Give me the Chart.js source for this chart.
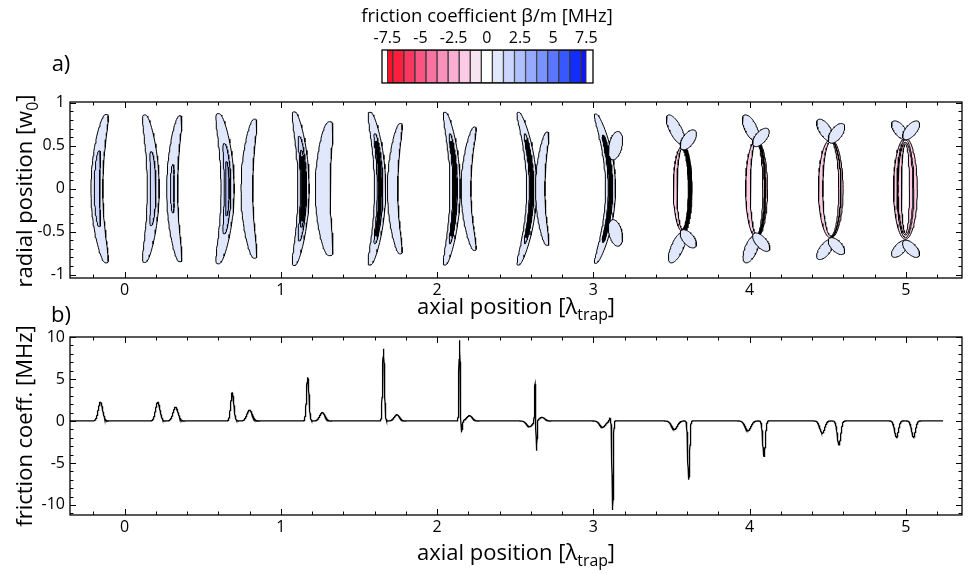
<!DOCTYPE html>
<html>
<head>
<meta charset="utf-8">
<script src="https://cdn.jsdelivr.net/npm/chart.js@4.4.1/dist/chart.umd.min.js"></script>
<style>
  body { margin: 0; background: #fff; width: 969px; height: 574px; overflow: hidden; position: relative; font-family: "Open Sans", sans-serif; }
  canvas { position: absolute; left: 0; top: 0; }
  .lbl { position: absolute; white-space: nowrap; color: #000; line-height: 1; transform: translate(-50%, -50%); }
  .lbl sub { font-size: 72%; vertical-align: -0.35em; line-height: 0; }
  .rot { transform: translate(-50%, -50%) rotate(-90deg); }
</style>
</head>
<body>
<canvas id="cbar" width="969" height="574"></canvas>
<canvas id="kontur" width="969" height="574"></canvas>
<canvas id="reibung" width="969" height="574"></canvas>

<div class="lbl" style="left:487px;top:15px;font-size:18.5px">friction coefficient β/m [MHz]</div>
<div class="lbl" style="left:61px;top:62px;font-size:22px">a)</div>
<div class="lbl" style="left:61px;top:313px;font-size:22px">b)</div>
<div class="lbl rot" style="left:23px;top:191px;font-size:22px">radial position [w<sub>0</sub>]</div>
<div class="lbl" style="left:516px;top:305px;font-size:22px">axial position [λ<sub>trap</sub>]</div>
<div class="lbl rot" style="left:23px;top:426px;font-size:22px">friction coeff. [MHz]</div>
<div class="lbl" style="left:516px;top:551px;font-size:22px">axial position [λ<sub>trap</sub>]</div>

<script>
// axes: axial position in λ_trap, radial position in w0, friction in MHz
const axialRange = [-0.35, 5.36];
const radialRange = [-1.04, 1.01];
const frictionRange = [-11.2, 10];
const axialTicks = [0, 1, 2, 3, 4, 5];
const radialTicks = [-1, -0.5, 0, 0.5, 1];
const frictionTicks = [-10, -5, 0, 5, 10];

// colour bar: contour level edges (MHz) and the colour of each band
const levelEdges = [-7.5, -7.083, -6.25, -5.417, -4.583, -3.75, -2.917, -2.083, -1.25, -0.417,
  0.417, 1.25, 2.083, 2.917, 3.75, 4.583, 5.417, 6.25, 7.083, 7.5];
const levelColors = [
  'rgb(255,16,40)', 'rgb(255,30,62)', 'rgb(250,55,96)', 'rgb(250,85,130)', 'rgb(250,115,160)',
  'rgb(250,145,186)', 'rgb(250,175,210)', 'rgb(252,202,228)', 'rgb(246,228,240)', 'rgb(255,255,255)',
  'rgb(226,232,252)', 'rgb(202,214,255)', 'rgb(175,192,255)', 'rgb(148,170,255)', 'rgb(120,146,255)',
  'rgb(90,118,255)', 'rgb(55,88,255)', 'rgb(18,45,255)', 'rgb(15,20,250)'
];
const colorTicks = [-7.5, -5, -2.5, 0, 2.5, 5, 7.5];

// crescent contours: axial centre at r=0, tip offset, radial half length, axial width
const crescentX     = [-0.178, 0.183, 0.304, 0.659, 0.782, 1.145, 1.268, 1.635, 1.715, 2.115, 2.185, 2.605, 2.66, 3.11];
const crescentBend  = [0.060, -0.055, 0.050, -0.060, 0.050, -0.060, 0.045, -0.065, 0.050, -0.065, 0.055, -0.085, 0.045, -0.095];
const crescentHalf  = [0.865, 0.86, 0.85, 0.875, 0.81, 0.895, 0.78, 0.89, 0.76, 0.89, 0.72, 0.89, 0.66, 0.87];
const crescentWidth = [0.076, 0.076, 0.07, 0.084, 0.075, 0.072, 0.095, 0.072, 0.066, 0.066, 0.062, 0.064, 0.06, 0.064];
// higher contour levels inside each crescent: [length fraction, width fraction]
const crescentInner = [
  [[0.51, 0.45]], [[0.5, 0.45]], [[0.33, 0.32]], [[0.6, 0.5], [0.36, 0.25]], [],
  [[0.68, 0.55], [0.5, 0.38]], [], [[0.72, 0.5]], [], [[0.72, 0.45]], [], [[0.72, 0.45]], [], [[0.72, 0.45]]
];
// length fraction of the band of tightly packed contour lines
const crescentDense = [0, 0, 0, 0, 0, 0.4, 0, 0.6, 0, 0.6, 0, 0.62, 0, 0.68];

// ring contours at the outer sites
const ringX      = [3.572, 4.045, 4.52, 4.998];
const ringRx     = [0.06, 0.07, 0.079, 0.076];
const ringRy     = [0.50, 0.57, 0.575, 0.59];
const ringBand   = [0.024, 0.03, 0.028, 0.022];
const ringSecond = [0, 0, 0, 0.048];

// lobes attached to the rings: base and tip
const lobeBaseX = [3.126, 3.126, 3.57, 3.578, 3.575, 3.578, 4.04, 4.04, 4.04, 4.04, 4.518, 4.525, 4.518, 4.525, 4.994, 5.0, 4.994, 5.0];
const lobeBaseY = [0.337, -0.36, 0.51, 0.453, -0.50, -0.477, 0.55, 0.49, -0.535, -0.515, 0.55, 0.53, -0.59, -0.57, 0.57, 0.57, -0.6, -0.6];
const lobeTipX  = [3.158, 3.158, 3.485, 3.638, 3.50, 3.638, 3.975, 4.105, 3.98, 4.11, 4.45, 4.588, 4.45, 4.588, 4.93, 5.068, 4.93, 5.068];
const lobeTipY  = [0.667, -0.67, 0.86, 0.686, -0.864, -0.69, 0.86, 0.705, -0.864, -0.73, 0.81, 0.76, -0.826, -0.767, 0.79, 0.79, -0.8, -0.8];

// friction coefficient along the axis: peak position, height (MHz), width
const peakAt     = [-0.155, 0.212, 0.326, 0.689, 0.800, 1.172, 1.266, 1.657, 1.743, 2.144, 2.156, 2.208, 2.592, 2.627, 2.637, 2.672,
  3.060, 3.106, 3.124, 3.520, 3.611, 3.991, 4.093, 4.466, 4.573, 4.941, 5.050];
const peakHeight = [2.25, 2.25, 1.65, 3.35, 1.3, 5.2, 1.0, 8.6, 0.75, 9.7, -1.4, 0.63, -0.67, 4.5, -3.6, 0.43,
  -0.75, 0.35, -10.6, -1.0, -7.0, -1.15, -4.2, -1.46, -2.85, -1.94, -1.94];
const peakWidth  = [0.014, 0.014, 0.016, 0.010, 0.017, 0.008, 0.017, 0.006, 0.017, 0.004, 0.005, 0.018, 0.018, 0.003, 0.003, 0.018,
  0.018, 0.004, 0.004, 0.018, 0.006, 0.018, 0.008, 0.015, 0.011, 0.012, 0.012];
const curveEnd = 5.24;

const tickFont = { family: 'Open Sans', size: 16 };
const ringShade = [4, 2.5, 1.5, 0];
const lobeWidth = 0.085;

// ---- outline helpers (data units) ----
function crescent(i, hf, wf) {
  const pts = [];
  const n = 48;
  for (const side of [1, -1]) {
    for (let k = 0; k <= n; k++) {
      const t = side * Math.cos(Math.PI * k / n);
      const y = t * hf * crescentHalf[i];
      const u = y / crescentHalf[i];
      const hw = 0.5 * wf * crescentWidth[i] * Math.pow(Math.max(0, 1 - t * t), 0.3);
      pts.push({ x: crescentX[i] + crescentBend[i] * u * u + side * hw, y });
    }
  }
  return pts;
}

function centreLine(i, frac) {
  const pts = [];
  for (let k = 0; k <= 30; k++) {
    const u = frac * (-1 + 2 * k / 30);
    pts.push({ x: crescentX[i] + crescentBend[i] * u * u, y: u * crescentHalf[i] });
  }
  return pts;
}

function ellipse(cx, rx, ry, a0 = 0, a1 = 2 * Math.PI) {
  const pts = [];
  for (let k = 0; k <= 72; k++) {
    const a = a0 + (a1 - a0) * k / 72;
    pts.push({ x: cx + rx * Math.cos(a), y: ry * Math.sin(a) });
  }
  return pts;
}

function lobe(j, w) {
  const pts = [];
  const n = 30;
  const bx = lobeBaseX[j], by = lobeBaseY[j], tx = lobeTipX[j], ty = lobeTipY[j];
  for (const side of [1, -1]) {
    for (let k = 0; k <= n; k++) {
      let s = (1 - Math.cos(Math.PI * k / n)) / 2;
      if (side < 0) s = 1 - s;
      const hw = w * Math.sqrt(s * (1 - s));
      pts.push({ x: bx + s * (tx - bx) + side * hw, y: by + s * (ty - by) });
    }
  }
  return pts;
}

function shape(points, color, lw = 1) {
  return { data: points, showLine: true, fill: 'shape', backgroundColor: color, borderColor: '#000',
    borderWidth: lw, pointRadius: 0, tension: 0, borderJoinStyle: 'round' };
}
function stroke(points, lw, color = '#000') {
  return { data: points, showLine: true, fill: false, borderColor: color, borderWidth: lw,
    pointRadius: 0, tension: 0, borderCapStyle: 'round' };
}

// ---- contour layers, bottom to top ----
const layers = [];
crescentX.forEach((_, i) => layers.push(shape(crescent(i, 1, 1), levelColors[10])));
crescentX.forEach((_, i) => {
  crescentInner[i].forEach(([hf, wf], k) => layers.push(shape(crescent(i, hf, wf), levelColors[11 + k])));
  if (crescentDense[i] > 0) layers.push(stroke(centreLine(i, crescentDense[i]), 4));
});
ringX.forEach((cx, i) => {
  layers.push(shape(ellipse(cx, ringRx[i], ringRy[i]), levelColors[7]));
  layers.push(shape(ellipse(cx, ringRx[i] - ringBand[i], ringRy[i] - 0.9 * ringBand[i]), '#fff'));
  if (ringSecond[i] > 0) {
    layers.push(shape(ellipse(cx, ringSecond[i], ringRy[i] - 0.05), levelColors[7]));
    layers.push(shape(ellipse(cx, ringSecond[i] - ringBand[i], ringRy[i] - 0.05 - 0.9 * ringBand[i]), '#fff'));
  }
  if (ringShade[i] > 0) {
    layers.push(stroke(ellipse(cx, ringRx[i] - ringBand[i] / 2, ringRy[i] - 0.45 * ringBand[i], -Math.PI / 2, Math.PI / 2), ringShade[i]));
  }
});
lobeBaseX.forEach((_, j) => layers.push(shape(lobe(j, lobeWidth), levelColors[10])));
// Chart.js paints dataset 0 last, so reverse to keep the stacking order
layers.reverse();

// ---- friction curve ----
const frictionCurve = [];
const nSamples = Math.round((curveEnd - axialRange[0]) / 0.001);
for (let k = 0; k <= nSamples; k++) {
  const x = axialRange[0] + k * 0.001;
  let y = 0;
  peakAt.forEach((p, i) => {
    const d = (x - p) / peakWidth[i];
    y += peakHeight[i] * Math.exp(-0.5 * d * d);
  });
  frictionCurve.push({ x, y });
}

// frame with inward ticks on all four sides
function framed(xStep, xMajor, yStep, yMajor) {
  return {
    id: 'framed',
    afterDraw(chart) {
      const { ctx, chartArea: a } = chart;
      const sx = chart.scales.x, sy = chart.scales.y;
      const isMajor = (v, m) => Math.abs(v / m - Math.round(v / m)) < 1e-6;
      ctx.save();
      ctx.strokeStyle = '#000';
      ctx.lineWidth = 1;
      ctx.beginPath();
      for (let k = Math.ceil(sx.min / xStep - 1e-9); k * xStep <= sx.max + 1e-9; k++) {
        const v = k * xStep;
        const px = Math.round(sx.getPixelForValue(v)) + 0.5;
        const len = isMajor(v, xMajor) ? 6 : 3.5;
        ctx.moveTo(px, a.bottom); ctx.lineTo(px, a.bottom - len);
        ctx.moveTo(px, a.top); ctx.lineTo(px, a.top + len);
      }
      for (let k = Math.ceil(sy.min / yStep - 1e-9); k * yStep <= sy.max + 1e-9; k++) {
        const v = k * yStep;
        const py = Math.round(sy.getPixelForValue(v)) + 0.5;
        const len = isMajor(v, yMajor) ? 6 : 3.5;
        ctx.moveTo(a.left, py); ctx.lineTo(a.left + len, py);
        ctx.moveTo(a.right, py); ctx.lineTo(a.right - len, py);
      }
      ctx.stroke();
      ctx.lineWidth = 1.3;
      ctx.strokeRect(a.left, a.top, a.right - a.left, a.bottom - a.top);
      ctx.restore();
    }
  };
}

function axis(range, ticks, pos, extra, pad) {
  return Object.assign({
    type: 'linear', position: pos, min: range[0], max: range[1],
    grid: { display: false, drawTicks: false, tickLength: 0 },
    border: { display: false },
    afterBuildTicks: s => { s.ticks = ticks.map(v => ({ value: v })); },
    ticks: { color: '#000', font: tickFont, padding: pad, autoSkip: false, maxRotation: 0, minRotation: 0, callback: v => String(v) }
  }, extra);
}

const common = {
  responsive: false,
  animation: false,
  events: [],
  plugins: { legend: { display: false }, tooltip: { enabled: false } }
};

// colour bar
new Chart(document.getElementById('cbar'), {
  type: 'bar',
  data: {
    labels: ['β'],
    datasets: [{
      data: levelColors.map((c, i) => ({ x: [levelEdges[i], levelEdges[i + 1]], y: 'β' })),
      backgroundColor: levelColors,
      borderColor: '#3a3a3a',
      borderWidth: 1,
      borderSkipped: false,
      categoryPercentage: 1,
      barPercentage: 1
    }]
  },
  options: Object.assign({}, common, {
    indexAxis: 'y',
    layout: { padding: { left: 382, right: 376, top: 30, bottom: 574 - 83 } },
    scales: {
      x: axis([-7.9, 8.0], colorTicks, 'top', { afterFit: s => { s.height = 20; } }, 2),
      y: { display: false }
    }
  }),
  plugins: [{
    id: 'box',
    afterDraw(chart) {
      const { ctx, chartArea: a } = chart;
      ctx.save();
      ctx.strokeStyle = '#000';
      ctx.lineWidth = 1.3;
      ctx.strokeRect(a.left, a.top, a.right - a.left, a.bottom - a.top);
      ctx.restore();
    }
  }]
});

// panel a: contours
new Chart(document.getElementById('kontur'), {
  type: 'scatter',
  data: { datasets: layers },
  options: Object.assign({}, common, {
    layout: { padding: { left: 0, top: 102, right: 7, bottom: 574 - 278 - 30 } },
    scales: {
      x: axis(axialRange, axialTicks, 'bottom', { afterFit: s => { s.height = 30; } }, 3),
      y: axis(radialRange, radialTicks, 'left', { afterFit: s => { s.width = 70; } }, 5)
    }
  }),
  plugins: [framed(0.2, 1, 0.1, 0.5)]
});

// panel b: friction coefficient
new Chart(document.getElementById('reibung'), {
  type: 'scatter',
  data: {
    datasets: [{
      data: frictionCurve, showLine: true, borderColor: '#000', borderWidth: 1.3,
      pointRadius: 0, tension: 0, fill: false
    }]
  },
  options: Object.assign({}, common, {
    layout: { padding: { left: 0, top: 337, right: 7, bottom: 574 - 515 - 30 } },
    scales: {
      x: axis(axialRange, axialTicks, 'bottom', { afterFit: s => { s.height = 30; } }, 3),
      y: axis(frictionRange, frictionTicks, 'left', { afterFit: s => { s.width = 70; } }, 5)
    }
  }),
  plugins: [framed(0.2, 1, 1, 5)]
});
</script>
</body>
</html>
